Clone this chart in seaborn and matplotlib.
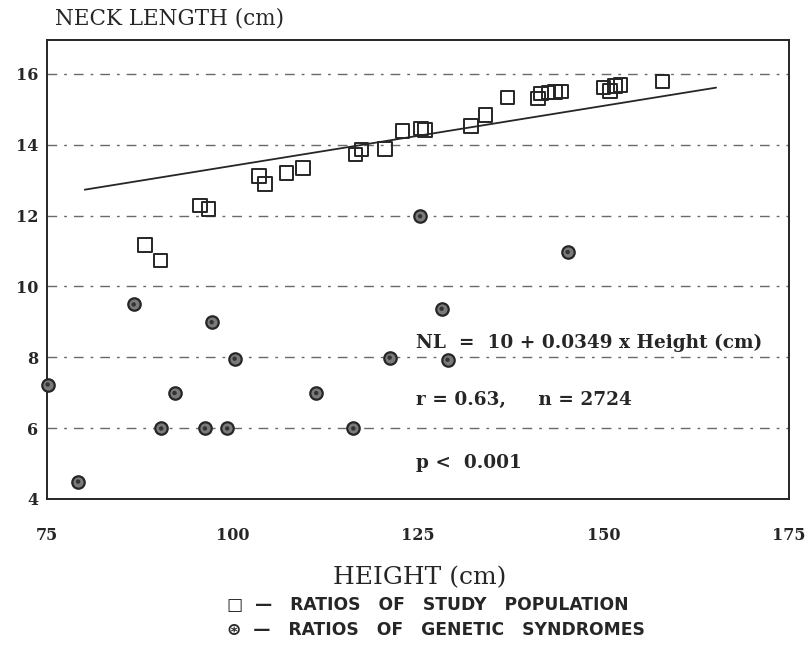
import matplotlib
matplotlib.use("Agg")
import matplotlib.pyplot as plt
import seaborn as sns
import pandas as pd

# ---- data ----
study_height = [88.2, 90.3, 95.6, 96.8, 103.6, 104.4, 107.3, 109.5, 116.6, 117.4,
                120.6, 122.9, 125.4, 126.0, 132.2, 134.1, 137.1, 141.2, 141.6, 142.6,
                143.5, 144.3, 150.0, 150.9, 151.6, 152.3, 158.0]
study_neck = [11.17, 10.73, 12.28, 12.19, 13.11, 12.89, 13.20, 13.34, 13.72, 13.86,
              13.88, 14.38, 14.46, 14.42, 14.52, 14.84, 15.33, 15.30, 15.45, 15.47,
              15.49, 15.50, 15.61, 15.52, 15.66, 15.68, 15.78]

synd_height = [75.1, 79.2, 86.7, 90.4, 92.2, 96.3, 97.2, 99.3, 100.3, 111.3,
               116.3, 121.2, 125.3, 128.2, 129.0, 145.2]
synd_neck = [7.23, 4.49, 9.49, 5.99, 6.99, 5.99, 8.99, 5.99, 7.96, 6.99,
             5.99, 7.99, 11.98, 9.37, 7.93, 10.97]

line_height = [80.1, 165.2]
line_neck = [12.73, 15.61]

x_ticks = [75, 100, 125, 150, 175]
y_ticks = [4, 6, 8, 10, 12, 14, 16]

y_label = "NECK LENGTH (cm)"
x_label = "HEIGHT (cm)"
eq_lines = ["NL  =  10 + 0.0349 x Height (cm)", "r = 0.63,     n = 2724", "p <  0.001"]
legend_lines = ["\u25a1  \u2014   RATIOS   OF   STUDY   POPULATION",
                "\u229b  \u2014   RATIOS   OF   GENETIC   SYNDROMES"]

# ---- plotting ----
sns.set_theme(style="white")
plt.rcParams['font.family'] = ['DejaVu Serif', 'DejaVu Sans']
ink = "#262626"

fig = plt.figure(figsize=(8.09, 6.48), dpi=100)
ax = fig.add_axes([0.058, 0.23, 0.917, 0.708])

df_s = pd.DataFrame({"h": study_height, "n": study_neck})
df_g = pd.DataFrame({"h": synd_height, "n": synd_neck})
df_l = pd.DataFrame({"h": line_height, "n": line_neck})

for yv in y_ticks[1:]:
    ax.axhline(yv, color="#6a6a6a", lw=1.0, ls=(0, (7, 5, 2, 5)), zorder=0)

sns.lineplot(data=df_l, x="h", y="n", ax=ax, color=ink, lw=1.3, zorder=2)
sns.scatterplot(data=df_s, x="h", y="n", ax=ax, marker="s", s=95,
                facecolor="none", edgecolor=ink, linewidth=1.4, zorder=3)
sns.scatterplot(data=df_g, x="h", y="n", ax=ax, marker="o", s=80,
                color="#7a7a7a", edgecolor=ink, linewidth=1.6, zorder=3,
                clip_on=False)
sns.scatterplot(data=df_g, x="h", y="n", ax=ax, marker="o", s=10,
                color="#333333", edgecolor="none", zorder=4, clip_on=False)

ax.set_xlim(75, 175)
ax.set_ylim(4, 16.95)
ax.set_xticks(x_ticks)
ax.set_yticks(y_ticks)
ax.set_xticklabels([str(v) for v in x_ticks], fontsize=11.5, fontweight="bold", color=ink)
ax.set_yticklabels([str(v) for v in y_ticks], fontsize=11.5, fontweight="bold", color=ink)
ax.tick_params(axis="both", direction="in", length=6, width=1.2, colors=ink)
ax.tick_params(axis="y", pad=6)
ax.tick_params(axis="x", pad=20)
ax.set_xlabel("")
ax.set_ylabel("")
for sp in ax.spines.values():
    sp.set_color(ink)
    sp.set_linewidth(1.4)

fig.text(55 / 809, 1 - 18 / 648, y_label, fontsize=15.5, color=ink, va="center", ha="left")
fig.text(420 / 809, 1 - 578 / 648, x_label, fontsize=18, color=ink, va="center", ha="center")

for txt, py in zip(eq_lines, [343, 400, 463]):
    fig.text(416 / 809, 1 - py / 648, txt, fontsize=13.3, fontweight="bold",
             color=ink, va="center", ha="left")

for txt, py in zip(legend_lines, [605, 630]):
    fig.text(227 / 809, 1 - py / 648, txt, fontsize=12.3, fontweight="bold",
             color=ink, va="center", ha="left", family=["DejaVu Sans"])

fig.savefig("out.png", dpi=100, facecolor="white")
